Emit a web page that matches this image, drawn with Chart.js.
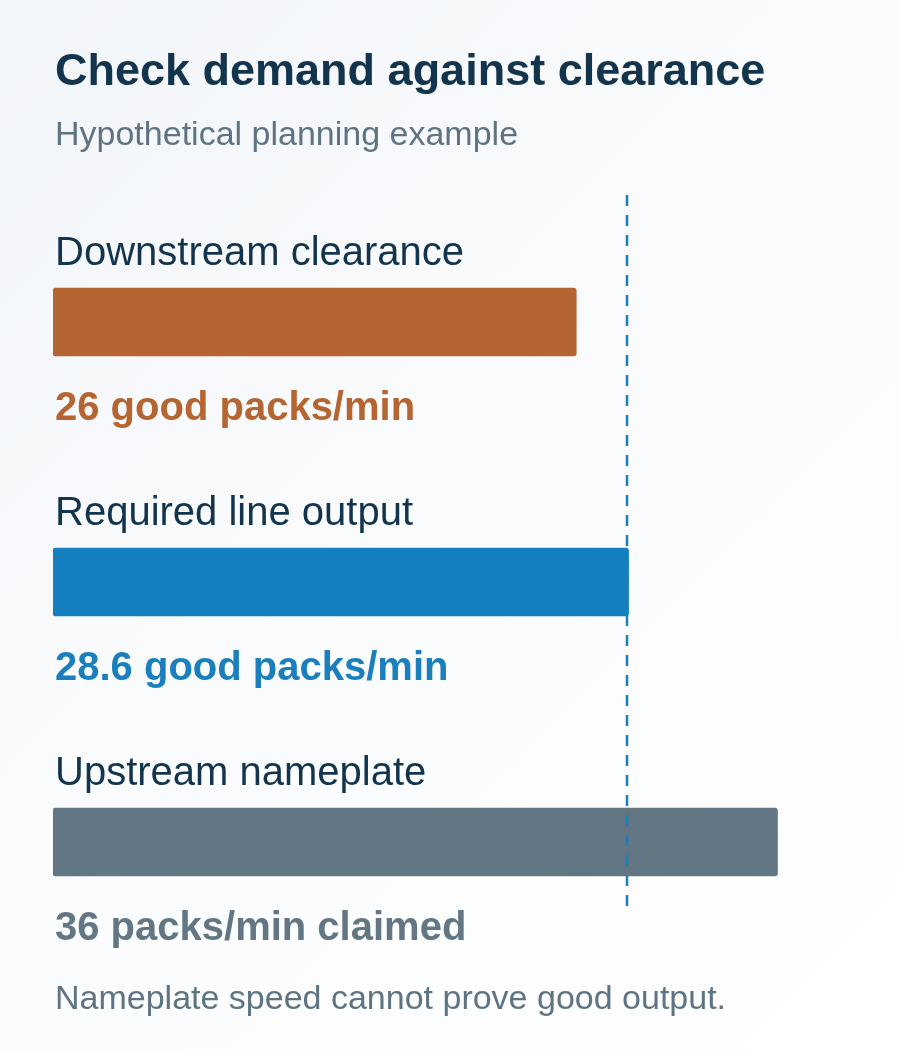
<!DOCTYPE html>
<html>
<head>
<meta charset="utf-8">
<script src="https://cdn.jsdelivr.net/npm/chart.js@4.4.1/dist/chart.umd.min.js"></script>
<style>
    html, body { margin: 0; padding: 0; }
    body {
        width: 900px;
        height: 1050px;
        background: linear-gradient(135deg, #f2f5f9 0%, #fbfcfd 55%, #ffffff 100%);
        font-family: "Liberation Sans", Arial, sans-serif;
    }
    #wrap { position: relative; width: 900px; height: 1050px; }
</style>
</head>
<body>
<div id="wrap"><canvas id="myChartClearance"></canvas></div>
<script>
// data
const categories = ['Downstream clearance', 'Required line output', 'Upstream nameplate'];
const values = [26, 28.6, 36];
const valueLabels = ['26 good packs/min', '28.6 good packs/min', '36 packs/min claimed'];
const barColors = ['#b56531', '#1580bf', '#627684'];
const labelColors = ['#b56531', '#1a7fbc', '#627684'];
const requiredValue = 28.6;
const xMax = 40;

const titleText = 'Check demand against clearance';
const subtitleText = 'Hypothetical planning example';
const noteText = 'Nameplate speed cannot prove good output.';

const FONT = '"Liberation Sans", Arial, sans-serif';

// draws title, category names, value texts, dashed reference and note
const textPlugin = {
    id: 'textPlugin',
    afterDatasetsDraw(chart) {
        const ctx = chart.ctx;
        const meta = chart.getDatasetMeta(0);
        const x = chart.scales.x;
        const left = x.getPixelForValue(0) + 2;

        ctx.save();
        ctx.textAlign = 'left';
        ctx.textBaseline = 'alphabetic';

        // title + subtitle
        ctx.fillStyle = '#12344d';
        ctx.font = 'bold 45px ' + FONT;
        ctx.fillText(titleText, left, 85);
        ctx.fillStyle = '#5f7482';
        ctx.font = '34px ' + FONT;
        ctx.fillText(subtitleText, left, 145);

        meta.data.forEach((bar, i) => {
            const top = bar.y - bar.height / 2;
            const bottom = bar.y + bar.height / 2;
            ctx.fillStyle = '#12344d';
            ctx.font = '40px ' + FONT;
            ctx.fillText(categories[i], left, top - 23);
            ctx.fillStyle = labelColors[i];
            ctx.font = 'bold 40px ' + FONT;
            ctx.fillText(valueLabels[i], left, bottom + 64);
        });

        // dashed required line
        const rx = Math.floor(x.getPixelForValue(requiredValue)) - 1;
        const first = meta.data[0];
        const last = meta.data[meta.data.length - 1];
        ctx.strokeStyle = '#1a7fb8';
        ctx.lineWidth = 2.5;
        ctx.setLineDash([11, 9]);
        ctx.beginPath();
        ctx.moveTo(rx, first.y - first.height / 2 - 93);
        ctx.lineTo(rx, last.y + last.height / 2 + 34);
        ctx.stroke();

        // note
        ctx.setLineDash([]);
        ctx.fillStyle = '#5f7482';
        ctx.font = '34px ' + FONT;
        ctx.fillText(noteText, left, 1009);
        ctx.restore();
    }
};

const _ctx = document.getElementById('myChartClearance');
const config = {
    type: 'bar',
    data: {
        labels: categories,
        datasets: [{
            data: values,
            backgroundColor: barColors,
            borderRadius: 3,
            borderSkipped: false,
            barThickness: 68
        }]
    },
    options: {
        indexAxis: 'y',
        responsive: false,
        animation: false,
        layout: {
            padding: { left: 53, right: 42, top: 192, bottom: 78 }
        },
        scales: {
            x: {
                min: 0,
                max: xMax,
                display: false
            },
            y: {
                display: false
            }
        },
        plugins: {
            legend: { display: false },
            tooltip: { enabled: false }
        }
    },
    plugins: [textPlugin]
};
_ctx.width = 900;
_ctx.height = 1050;
const myChartClearance = new Chart(_ctx, config);
</script>
</body>
</html>
